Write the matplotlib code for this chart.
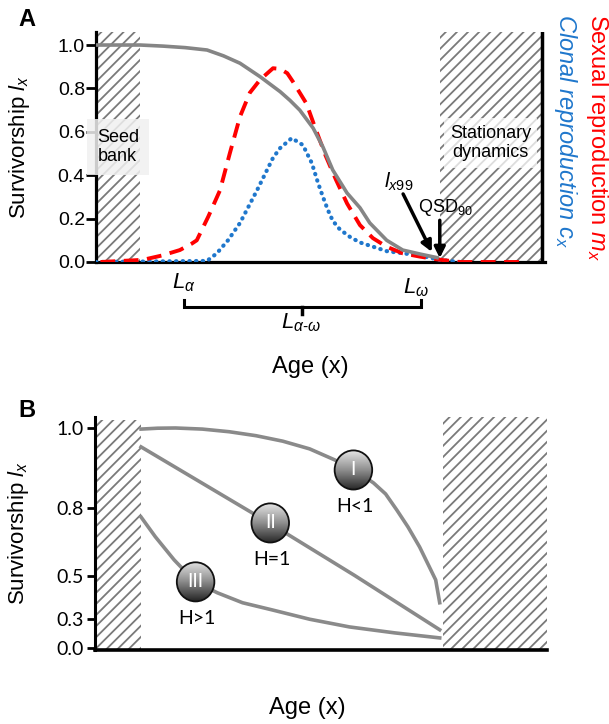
import numpy as np
import matplotlib.pyplot as plt
from matplotlib.patches import Rectangle, Ellipse
from matplotlib.colors import LinearSegmentedColormap

plt.rcParams['font.family'] = ['Liberation Sans', 'DejaVu Sans']
plt.rcParams['mathtext.fontset'] = 'custom'
plt.rcParams['mathtext.rm'] = 'Liberation Sans'
plt.rcParams['mathtext.it'] = 'Liberation Sans:italic'
plt.rcParams['hatch.linewidth'] = 1.3
plt.rcParams['hatch.color'] = '#7a7a7a'

# ---- panel A data (age in % of the plotted span) ----
age_lx = [0, 9.9, 15, 20, 24.9, 28.6, 32.3, 36.8, 41.3, 43.5, 45.7, 48.7, 50.9,
          53.1, 56.3, 59.2, 61.4, 65.2, 68.8, 72.6, 76.5]
lx = [1.0, 1.0, 0.995, 0.988, 0.977, 0.95, 0.916, 0.854, 0.785, 0.745, 0.70, 0.617,
      0.53, 0.424, 0.318, 0.25, 0.18, 0.10, 0.055, 0.037, 0.02]

age_mx = [1.0, 10.5, 14.8, 18.8, 21.5, 22.6, 25.2, 27.8, 30.0, 32.3, 34.5, 36.8, 39.7,
          41.3, 42.9, 44.2, 47.2, 49.3, 51.5, 53.8, 56.3, 59.2, 62.1, 65.2, 68.8,
          72.6, 76.5, 81.6, 95.7]
mx = [0.0, 0.01, 0.03, 0.055, 0.085, 0.10, 0.21, 0.33, 0.50, 0.67, 0.78, 0.84, 0.893,
      0.89, 0.87, 0.83, 0.73, 0.61, 0.49, 0.38, 0.27, 0.17, 0.11, 0.07, 0.04,
      0.025, 0.012, 0.0, 0.0]

age_cx = [0, 24.9, 27.1, 29.6, 32.3, 36.1, 39.7, 41.3, 43.9, 46.4, 48.4, 49.8, 50.9,
          52.0, 53.1, 54.7, 57.0, 59.2, 65.2, 72.6, 77.1, 81.6]
cx = [0.0, 0.005, 0.04, 0.10, 0.18, 0.33, 0.48, 0.525, 0.571, 0.539, 0.456, 0.364,
      0.30, 0.24, 0.19, 0.15, 0.115, 0.09, 0.05, 0.03, 0.01, 0.0]

seed_bank_a = (0, 9.9)
stationary_a = (77.1, 100)
yticks_a = [0.0, 0.2, 0.4, 0.6, 0.8, 1.0]

# ---- panel B data ----
age_I = [10.3, 14, 18, 24, 30, 36, 42, 48, 53.6, 58, 62.3, 65, 67.5, 70, 72.6, 74.5, 76.2, 77.1]
surv_I = [0.995, 0.999, 1.0, 0.995, 0.983, 0.965, 0.94, 0.905, 0.855, 0.81, 0.75, 0.70,
          0.627, 0.55, 0.459, 0.38, 0.309, 0.205]
age_II = [10.3, 39.2, 58, 77.1]
surv_II = [0.914, 0.565, 0.33, 0.082]
age_III = [10.3, 13.5, 17.7, 22.4, 27.4, 33, 39.5, 48, 56.9, 67, 77.1]
surv_III = [0.595, 0.505, 0.40, 0.30, 0.25, 0.205, 0.173, 0.13, 0.095, 0.068, 0.045]

ball_age = [57.8, 39.2, 22.5]
ball_surv = [0.809, 0.568, 0.30]
ball_num = ['I', 'II', 'III']
ball_h = ['H<1', 'H=1', 'H>1']

ytick_pos_b = [0.0, 0.132, 0.327, 0.636, 1.0]
ytick_lab_b = ['0.0', '0.3', '0.5', '0.8', '1.0']
seed_bank_b = (0.2, 10.4)
stationary_b = (77.8, 101.1)

fig = plt.figure(figsize=(6.09, 7.24), dpi=100)

# ================= Panel A =================
ax1 = fig.add_axes([96/609, 1-262/724, 449/609, 230/724])
ax1.set_xlim(0, 100.7)
ax1.set_ylim(0, 1.06)

ax1.add_patch(Rectangle((seed_bank_a[0], 0), seed_bank_a[1]-seed_bank_a[0], 1.06,
                        facecolor='white', edgecolor='#7a7a7a', hatch='///', lw=0, zorder=1))
ax1.add_patch(Rectangle((stationary_a[0], 0), stationary_a[1]-stationary_a[0], 1.06,
                        facecolor='white', edgecolor='#7a7a7a', hatch='///', lw=0, zorder=1))
ax1.axvline(stationary_a[1], color='black', lw=2.5, zorder=2)

ax1.plot(age_cx, cx, color='#1f77cc', lw=3, linestyle=(0, (0.1, 1.5)),
         dash_capstyle='round', zorder=3)
ax1.plot(age_mx, mx, color='#ff0000', lw=2.8, linestyle=(0, (3.8, 2.2)), zorder=3)
ax1.plot(age_lx, lx, color='#858585', lw=2.6, zorder=4)

for s in ['top', 'right']:
    ax1.spines[s].set_visible(False)
ax1.spines['left'].set_linewidth(2.3)
ax1.spines['bottom'].set_linewidth(2.3)
ax1.set_xticks([])
ax1.set_yticks(yticks_a)
ax1.set_yticklabels(['%.1f' % v for v in yticks_a])
ax1.tick_params(axis='y', length=7, width=2, labelsize=14, pad=1)
ax1.set_ylabel(r'Survivorship $l_x$', fontsize=16)
ax1.yaxis.set_label_coords(-0.143, 0.5)

ax1.text(0.3, 0.53, 'Seed\nbank', fontsize=13, ha='left', va='center', zorder=6,
         bbox=dict(boxstyle='square,pad=0.55', facecolor='#f0f0f0', edgecolor='none', alpha=0.85))
ax1.text(88.5, 0.548, 'Stationary\ndynamics', fontsize=13, ha='center', va='center',
         multialignment='center', zorder=6,
         bbox=dict(boxstyle='square,pad=0.35', facecolor='white', edgecolor='none', alpha=0.75))

ax1.annotate('', xy=(75.6, 0.035), xytext=(68.6, 0.325),
             arrowprops=dict(arrowstyle='-|>', color='black', lw=2.5, mutation_scale=16), zorder=7)
ax1.text(67.9, 0.37, r'$l_{x99}$', fontsize=15, ha='center', va='center')
ax1.annotate('', xy=(77.1, 0.005), xytext=(77.1, 0.205),
             arrowprops=dict(arrowstyle='-|>', color='black', lw=2.5, mutation_scale=16), zorder=7)
ax1.text(78.3, 0.25, r'QSD$_{90}$', fontsize=13, ha='center', va='center')

# lifespan bracket below the axis
ax1.text(19.6, -0.094, r'$L_{\alpha}$', fontsize=16, ha='center', va='center')
ax1.text(71.8, -0.117, r'$L_{\omega}$', fontsize=16, ha='center', va='center')
ax1.plot([19.7, 19.7, 72.9, 72.9], [-0.175, -0.207, -0.207, -0.175], color='black',
         lw=2.2, clip_on=False, solid_joinstyle='miter')
ax1.plot([46.2, 46.2], [-0.207, -0.24], color='black', lw=2.5, clip_on=False)
ax1.text(46.0, -0.28, r'$L_{\alpha\text{-}\omega}$', fontsize=16, ha='center', va='center')

ax1.text(0.477, -0.457, 'Age (x)', transform=ax1.transAxes, fontsize=17, ha='center', va='center')

fig.text(18/609, 1-20/724, 'A', fontsize=17, fontweight='bold', ha='left', va='center')
fig.text(597/609, 1-14/724, r'Sexual reproduction $m_x$', color='#ff0000', fontsize=17,
         rotation=270, ha='center', va='top')
fig.text(566/609, 1-14/724, r'Clonal reproduction $c_x$', color='#1f77cc', fontsize=17,
         fontstyle='italic', rotation=270, ha='center', va='top')

# ================= Panel B =================
ax2 = fig.add_axes([95/609, 1-650/724, 452/609, 233/724])

ax2.add_patch(Rectangle((seed_bank_b[0], -0.01), seed_bank_b[1]-seed_bank_b[0], 1.046,
                        facecolor='white', edgecolor='#7a7a7a', hatch='///', lw=0, zorder=1))
ax2.add_patch(Rectangle((stationary_b[0], -0.01), stationary_b[1]-stationary_b[0], 1.06,
                        facecolor='white', edgecolor='#7a7a7a', hatch='///', lw=0, zorder=1))

for a, s in [(age_I, surv_I), (age_II, surv_II), (age_III, surv_III)]:
    ax2.plot(a, s, color='#8a8a8a', lw=2.6, zorder=3)

cmap = LinearSegmentedColormap.from_list('ball', ['#e6e6e6', '#8e8e8e', '#262626'])
grad = np.linspace(0, 1, 100).reshape(-1, 1)
bw, bh = 8.4, 0.178
for x, y, num, h in zip(ball_age, ball_surv, ball_num, ball_h):
    clip = Ellipse((x, y), bw, bh, facecolor='none', edgecolor='none')
    ax2.add_patch(clip)
    im = ax2.imshow(grad, extent=[x-bw/2, x+bw/2, y-bh/2, y+bh/2], cmap=cmap,
                    aspect='auto', origin='upper', zorder=5)
    im.set_clip_path(clip)
    ax2.add_patch(Ellipse((x, y), bw, bh, facecolor='none', edgecolor='#111111', lw=1.3, zorder=6))
    ax2.text(x, y, num, color='white', fontsize=14, ha='center', va='center', zorder=7,
             family=['Lato', 'DejaVu Sans'])
    ax2.text(x + 0.4, y - 0.165, h, fontsize=14, ha='center', va='center',
             family=['Lato', 'DejaVu Sans'])

ax2.set_xlim(0, 101.1)
ax2.set_ylim(-0.01, 1.05)
for s in ['top', 'right']:
    ax2.spines[s].set_visible(False)
ax2.spines['left'].set_linewidth(2.2)
ax2.spines['bottom'].set_linewidth(2.6)
ax2.set_xticks([])
ax2.set_yticks(ytick_pos_b)
ax2.set_yticklabels(ytick_lab_b, family=['Lato', 'DejaVu Sans'])
ax2.tick_params(axis='y', length=6, width=2, labelsize=14, pad=2)
ax2.set_ylabel(r'Survivorship $l_x$', fontsize=16)
ax2.yaxis.set_label_coords(-0.141, 0.5)
ax2.text(0.469, -0.249, 'Age (x)', transform=ax2.transAxes, fontsize=17, ha='center', va='center')

fig.text(18/609, 1-410/724, 'B', fontsize=17, fontweight='bold', ha='left', va='center')

fig.savefig('out.png', dpi=100)
